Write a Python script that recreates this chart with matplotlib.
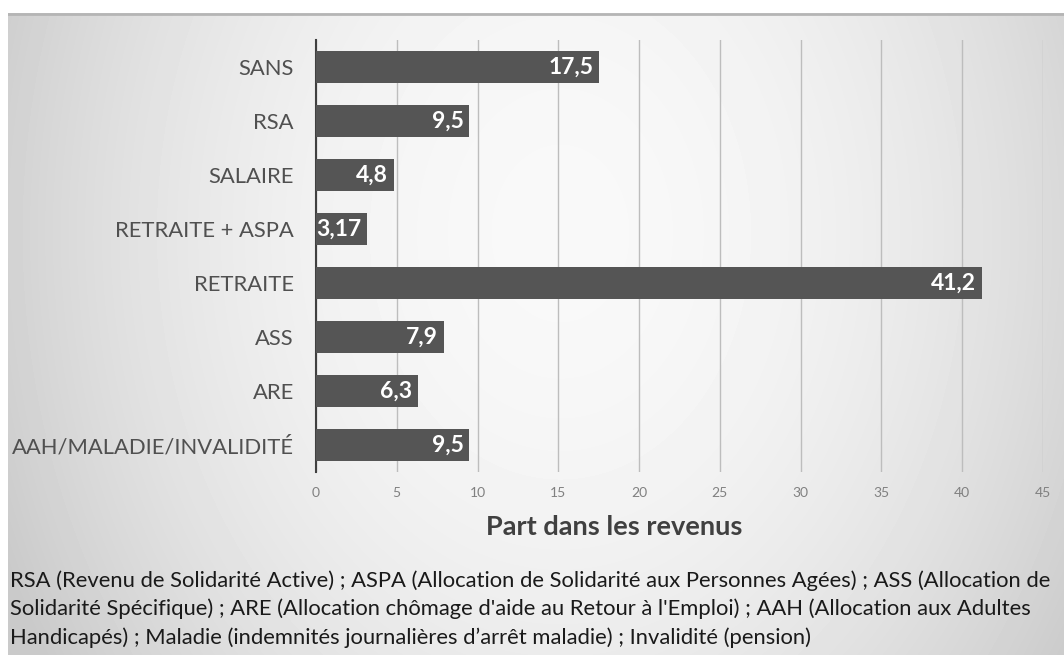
import matplotlib
matplotlib.use('Agg')
import matplotlib.pyplot as plt
import numpy as np

plt.rcParams['font.family'] = ['Lato', 'DejaVu Sans']

categories = ["AAH/MALADIE/INVALIDITÉ", "ARE", "ASS", "RETRAITE",
              "RETRAITE + ASPA", "SALAIRE", "RSA", "SANS"]
values = [9.5, 6.3, 7.9, 41.2, 3.17, 4.8, 9.5, 17.5]
labels = ["9,5", "6,3", "7,9", "41,2", "3,17", "4,8", "9,5", "17,5"]
xticks = [0, 5, 10, 15, 20, 25, 30, 35, 40, 45]

note = ("RSA (Revenu de Solidarité Active) ; ASPA (Allocation de Solidarité aux Personnes Agées) ; ASS (Allocation de\n"
        "Solidarité Spécifique) ; ARE (Allocation chômage d'aide au Retour à l'Emploi) ; AAH (Allocation aux Adultes\n"
        "Handicapés) ; Maladie (indemnités journalières d’arrêt maladie) ; Invalidité (pension)")

W, H = 1064, 655
fig = plt.figure(figsize=(W / 100, H / 100), dpi=100)
fig.patch.set_facecolor('white')

# radial grey gradient behind the whole panel
bg = fig.add_axes([8 / W, 0, 1 - 8 / W, 1 - 13 / H], zorder=0)
yy, xx = np.mgrid[0:642, 0:1056]
d2 = ((xx - 552) / 620.0) ** 2 + ((yy - 220) / 800.0) ** 2
shade = np.clip(0.975 - 0.19 * d2, 0.79, 0.98)
bg.imshow(shade, cmap='gray', vmin=0, vmax=1, aspect='auto', interpolation='bilinear')
bg.axhline(0, color='#b5b5b5', lw=2)
bg.axis('off')

ax = fig.add_axes([316 / W, 1 - 472 / H, (1043 - 316) / W, (472 - 40) / H], zorder=1)
ax.patch.set_alpha(0)
y = np.arange(len(categories))
bars = ax.barh(y, values, height=0.59, color='#555555', zorder=3)
for b, v, t in zip(bars, values, labels):
    ax.annotate(t, (v, b.get_y() + b.get_height() / 2), xytext=(-4, 0),
                textcoords='offset points', ha='right', va='center',
                color='white', fontsize=16.5, fontweight='bold', zorder=4)

ax.set_xlim(0, 45)
ax.set_ylim(-0.5, len(categories) - 0.5)
ax.set_yticks(y)
ax.set_yticklabels(categories, fontsize=15.8, color='#505050')
ax.set_xticks(xticks)
ax.set_xticklabels([str(t) for t in xticks], fontsize=10, color='#808080')
ax.tick_params(axis='y', length=0, pad=16)
ax.tick_params(axis='x', length=0, pad=11)
ax.grid(axis='x', color='#bdbdbd', lw=1, zorder=1)
for s in ['top', 'right', 'bottom']:
    ax.spines[s].set_visible(False)
ax.spines['left'].set_color('#404040')
ax.spines['left'].set_linewidth(1.5)
ax.set_xlabel('Part dans les revenus', fontsize=19.5, fontweight='bold',
              color='#404040')
ax.xaxis.set_label_coords(0.41, -0.10)

fig.text(10 / W, 1 - 570 / H, note, fontsize=15.8, color='#1a1a1a',
         va='top', ha='left', linespacing=1.5, zorder=2)

fig.savefig('out.png', dpi=100)
